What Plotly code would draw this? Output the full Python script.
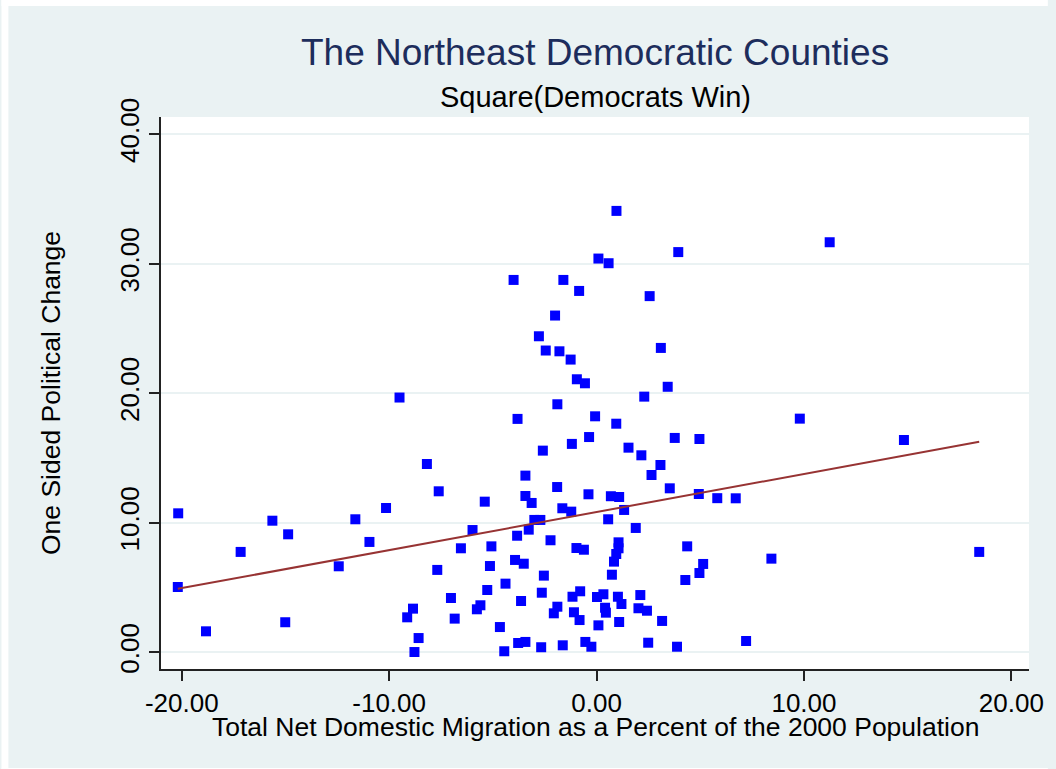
import plotly.graph_objects as go

# Net domestic migration (% of 2000 population) per county
migration = [
    0.96, 3.94, 0.09, 0.58, -4.00, -1.60, -0.84, 2.56, -2.00, -2.78,
    -2.45, -1.79, -1.25, 3.10, -0.95, -0.56, 3.43, 2.30, 11.24, -9.50,
    -20.17, -15.63, -14.87, -11.63, -10.15, -8.18, -7.61, -17.16, -10.95, -12.43,
    -20.19, -18.83, -15.01, -7.68, -7.02, -8.85, -9.13, -6.84, -8.58, -8.78,
    -6.54, -1.89, -3.81, -0.07, 0.95, -0.36, -1.19, 3.77, 4.96, -2.59,
    1.54, 2.16, 3.08, 2.65, -3.43, 3.53, -1.90, -0.39, -3.43, -3.13,
    -5.39, 0.69, 1.09, 4.93, 5.82, 6.71, -1.65, -1.22, 1.33, -3.00,
    -2.71, 0.56, 1.89, -5.98, -3.27, -3.83, -2.22, -5.07, -0.97, -0.61,
    1.06, 1.06, 0.95, 0.84, 4.37, -3.93, -3.51, -5.14, 5.14, 4.96,
    0.74, -2.54, 4.28, -4.39, -5.27, -2.64, -1.16, -0.79, 0.02, 0.33,
    1.03, 1.20, 2.11, -3.64, -5.60, -5.77, -1.89, -2.06, -1.09, -0.82,
    0.41, 0.45, 2.02, 2.43, 0.09, 1.09, 3.16, -4.66, -4.45, -3.78,
    -3.43, -2.67, -1.63, -0.54, -0.25, 2.49, 3.88, 9.80, 14.82, 8.43,
    18.45, 7.21,
]

# One-sided political change per county
political_change = [
    34.08, 30.90, 30.40, 30.04, 28.75, 28.75, 27.90, 27.50, 26.00, 24.40,
    23.30, 23.24, 22.60, 23.50, 21.08, 20.77, 20.50, 19.74, 31.66, 19.67,
    10.73, 10.16, 9.11, 10.27, 11.14, 14.54, 12.43, 7.75, 8.52, 6.64,
    5.04, 1.62, 2.32, 6.36, 4.19, 3.37, 2.70, 2.60, 1.10, 0.02,
    8.03, 19.15, 18.02, 18.22, 17.65, 16.62, 16.09, 16.55, 16.47, 15.57,
    15.80, 15.21, 14.46, 13.69, 13.64, 12.66, 12.76, 12.20, 12.07, 11.53,
    11.63, 12.05, 11.99, 12.22, 11.90, 11.89, 11.12, 10.86, 10.99, 10.22,
    10.22, 10.27, 9.60, 9.44, 9.47, 9.00, 8.65, 8.18, 8.05, 7.92,
    8.49, 8.03, 7.59, 7.00, 8.18, 7.13, 6.84, 6.66, 6.82, 6.12,
    5.99, 5.92, 5.58, 5.30, 4.81, 4.60, 4.29, 4.71, 4.27, 4.48,
    4.29, 3.73, 4.42, 3.96, 3.63, 3.32, 3.52, 3.01, 3.09, 2.49,
    3.44, 3.06, 3.40, 3.21, 2.08, 2.34, 2.42, 1.95, 0.08, 0.72,
    0.80, 0.39, 0.54, 0.80, 0.43, 0.74, 0.43, 18.04, 16.39, 7.23,
    7.75, 0.87,
]

# Linear fit of political change on migration
fit_intercept = 10.83
fit_slope = 0.2938

x_tick_values = [-20, -10, 0, 10, 20]
x_tick_labels = ["-20.00", "-10.00", "0.00", "10.00", "20.00"]
y_tick_values = [0, 10, 20, 30, 40]
y_tick_labels = ["0.00", "10.00", "20.00", "30.00", "40.00"]

W, H = 1056, 769
L, R, T, B = 161, 1037, 117, 669
FONT = "Liberation Sans, Arial, Helvetica, sans-serif"
BG = "#EAF2F3"


def py(p):
    """Pixel row -> paper y."""
    return (B - p) / (B - T)


def px(p):
    """Pixel column -> paper x."""
    return (p - L) / (R - L)


fit_x = [min(migration), max(migration)]
fit_y = [fit_intercept + fit_slope * v for v in fit_x]

fig = go.Figure()
fig.add_trace(go.Scatter(
    x=migration, y=political_change, mode="markers",
    marker=dict(symbol="square", size=10, color="#0000FF", line=dict(width=0)),
    showlegend=False, hoverinfo="x+y",
))
fig.add_trace(go.Scatter(
    x=fit_x, y=fit_y, mode="lines",
    line=dict(color="#973333", width=2),
    showlegend=False, hoverinfo="skip",
))

axis_common = dict(
    showline=True, linecolor="#222222", linewidth=1.5,
    ticks="outside", ticklen=10, tickwidth=1.5, tickcolor="#222222",
    tickfont=dict(family=FONT, size=26, color="black"),
    zeroline=False,
)

fig.update_xaxes(
    range=[-21.0, 20.85], tickvals=x_tick_values, ticktext=x_tick_labels,
    showgrid=False, **axis_common,
)
fig.update_yaxes(
    range=[-1.29, 41.33], tickvals=y_tick_values, ticktext=y_tick_labels,
    tickangle=-90, showgrid=True, gridcolor=BG, gridwidth=2,
    **axis_common,
)

annotations = [
    dict(text="The Northeast Democratic Counties", x=0.5, y=py(53),
         font=dict(family=FONT, size=37, color="#1d2d5c")),
    dict(text="Square(Democrats Win)", x=0.5, y=py(97),
         font=dict(family=FONT, size=29, color="black")),
    dict(text="Total Net Domestic Migration as a Percent of the 2000 Population",
         x=0.5, y=py(727), font=dict(family=FONT, size=26.5, color="black")),
    dict(text="One Sided Political Change", x=px(50), y=0.5, textangle=-90,
         font=dict(family=FONT, size=26.5, color="black")),
]
for a in annotations:
    a.update(xref="paper", yref="paper", showarrow=False,
             xanchor="center", yanchor="middle")

# thin white frame around the tinted page
shapes = [
    dict(type="rect", xref="paper", yref="paper", x0=px(0), x1=px(7),
         y0=py(H), y1=py(0), fillcolor="white", line=dict(width=0)),
    dict(type="rect", xref="paper", yref="paper", x0=px(0), x1=px(W),
         y0=py(6), y1=py(0), fillcolor="white", line=dict(width=0)),
    dict(type="rect", xref="paper", yref="paper", x0=px(0), x1=px(W),
         y0=py(H), y1=py(768), fillcolor="white", line=dict(width=0)),
]

fig.update_layout(
    width=W, height=H, autosize=False,
    margin=dict(l=L, r=W - R, t=T, b=H - B, pad=0),
    paper_bgcolor=BG, plot_bgcolor="white",
    font=dict(family=FONT, color="black"),
    annotations=annotations, shapes=shapes,
)

fig.write_html("out.html")
